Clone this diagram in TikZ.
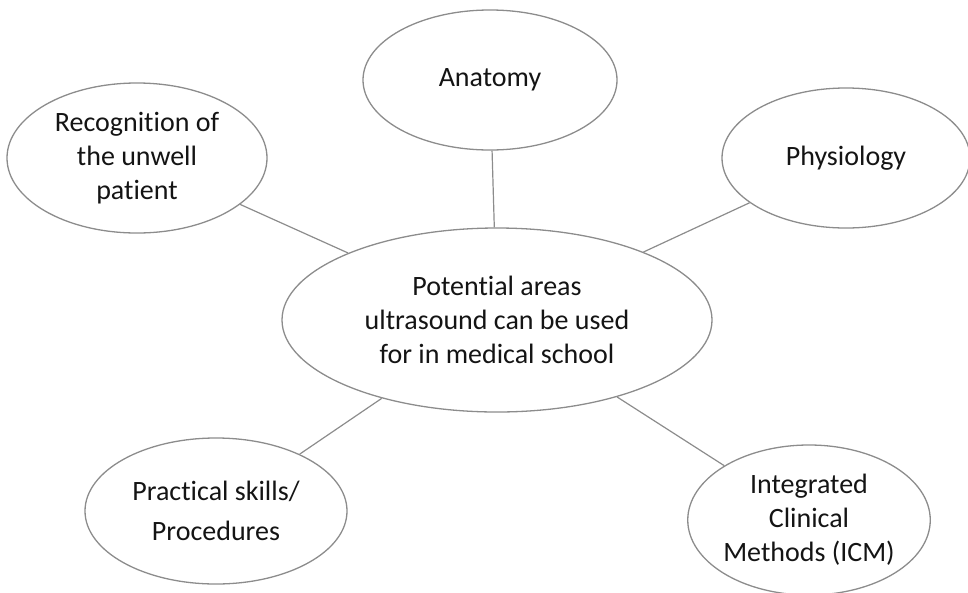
\documentclass[tikz,border=0pt]{standalone}
\usepackage{fontspec}
\setmainfont{Carlito}[Ligatures=NoCommon]
\usetikzlibrary{shapes.geometric}
\begin{document}
\begin{tikzpicture}
[x=1pt,y=-1pt,
bubble/.style={ellipse,draw=black!45,line width=1.3pt,inner sep=0pt,align=center,
  font=\fontsize{28}{34}\selectfont,text=black!92},
spoke/.style={draw=black!45,line width=1.2pt}]
\useasboundingbox (0,0) rectangle (968,592);
\node[bubble,minimum width=430,minimum height=184] (hub) at (497,320)
  {Potential areas\\ultrasound can be used\\for in medical school};
\node[bubble,minimum width=254,minimum height=140] (anat) at (490,80) {Anatomy};
\node[bubble,minimum width=260,minimum height=150] (recog) at (137,158)
  {Recognition of\\the unwell\\patient};
\node[bubble,minimum width=248,minimum height=140] (phys) at (846,158) {Physiology};
\node[bubble,minimum width=262,minimum height=146] (prac) at (216,511)
  {Practical skills/\\[6pt]Procedures};
\node[bubble,minimum width=236,minimum height=150] (icm) at (809,520)
  {Integrated\\Clinical\\Methods (ICM)};
% spokes
\draw[spoke] (anat) -- (hub);
\draw[spoke] (recog) -- (hub);
\draw[spoke] (phys) -- (hub);
\draw[spoke] (prac) -- (hub);
\draw[spoke] (icm) -- (hub);
\end{tikzpicture}
\end{document}
